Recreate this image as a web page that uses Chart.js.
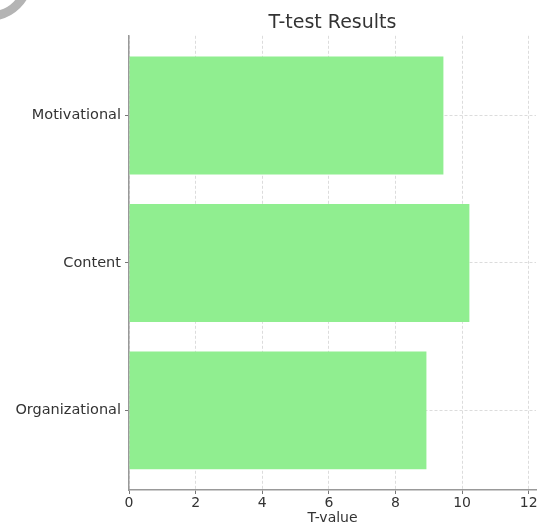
<!DOCTYPE html>
<html>
<head>
<meta charset="utf-8">
<script src="https://cdn.jsdelivr.net/npm/chart.js@4.4.1/dist/chart.umd.min.js"></script>
<style>
  html, body { margin: 0; padding: 0; background: #fff; }
  #wrap { width: 540px; height: 527px; }
</style>
</head>
<body>
<div id="wrap"><canvas id="tchart"></canvas></div>
<script>
// bottom to top, like the plot
const categories = ['Organizational', 'Content', 'Motivational'];
const tValues = [8.93, 10.22, 9.44];
const xTicks = [0, 2, 4, 6, 8, 10, 12];

const points = categories.map((c, i) => ({ x: tValues[i], y: i }));

// grey arc in the top-left corner of the picture
const cornerArc = {
  id: 'cornerArc',
  afterDraw(chart) {
    const ctx = chart.ctx;
    ctx.save();
    ctx.strokeStyle = '#b4b4b4';
    ctx.lineWidth = 9;
    ctx.beginPath();
    ctx.arc(-10, -22, 38, 0, Math.PI / 2);
    ctx.stroke();
    ctx.restore();
  }
};

const gridStyle = {
  color: '#dcdcdc',
  lineWidth: 1,
  offset: false,
  tickColor: '#777',
  tickLength: 4,
  tickBorderDash: []
};

const tchart = new Chart(document.querySelector('#tchart'), {
  type: 'bar',
  data: {
    datasets: [{
      data: points,
      backgroundColor: '#90ee90',
      borderWidth: 0,
      barPercentage: 0.8,
      categoryPercentage: 1.0
    }]
  },
  options: {
    indexAxis: 'y',
    responsive: true,
    maintainAspectRatio: false,
    animation: false,
    layout: { padding: { left: 0, right: 4, top: 0, bottom: 0 } },
    plugins: {
      legend: { display: false },
      tooltip: { enabled: false },
      title: {
        display: true,
        text: 'T-test Results',
        fullSize: false,
        color: '#333',
        font: { family: 'DejaVu Sans', size: 19, weight: 'normal' },
        padding: { top: 12, bottom: 1 }
      }
    },
    scales: {
      x: {
        type: 'linear',
        min: 0,
        max: 12.22,
        z: 1,
        afterBuildTicks: (s) => { s.ticks = xTicks.map(v => ({ value: v })); },
        afterFit: (s) => { s.height = 37; },
        grid: gridStyle,
        border: { display: true, color: '#999', width: 1.5, dash: [3, 2] },
        ticks: {
          color: '#333',
          padding: 1,
          font: { family: 'DejaVu Sans', size: 14 }
        },
        title: {
          display: true,
          text: 'T-value',
          color: '#333',
          font: { family: 'DejaVu Sans', size: 14 },
          padding: { top: 0, bottom: 0 }
        }
      },
      y: {
        type: 'linear',
        min: -0.54,
        max: 2.54,
        offset: false,
        z: 1,
        afterBuildTicks: (s) => { s.ticks = categories.map((c, i) => ({ value: i })); },
        afterFit: (s) => { s.width = 129; },
        grid: gridStyle,
        border: { display: true, color: '#999', width: 1.5, dash: [3, 2] },
        ticks: {
          color: '#333',
          padding: 4,
          font: { family: 'DejaVu Sans', size: 14.5 },
          callback: (v) => categories[v]
        }
      }
    }
  },
  plugins: [cornerArc]
});
</script>
</body>
</html>
